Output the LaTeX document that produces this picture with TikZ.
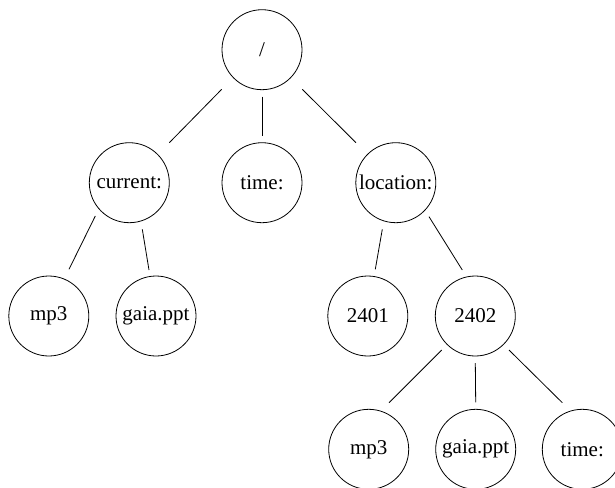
\documentclass[tikz,border=0pt]{standalone}
\usepackage{fontspec}
\setmainfont{Liberation Serif}
\usetikzlibrary{calc}
\begin{document}
\begin{tikzpicture}[x=1pt,y=1pt,
  tnode/.style={circle,draw,line width=0.8pt,minimum size=80pt,inner sep=0pt,font=\fontsize{21}{25}\selectfont},
  edge/.style={line width=0.8pt}]
\useasboundingbox (0,0) rectangle (615,-487);
\clip (0,0) rectangle (615,-487);
\node[tnode] (R)  at (262,-49.7) {/};
\node[tnode] (C)  at (129.3,-182.7) {current:};
\node[tnode] (T)  at (262,-182.7) {time:};
\node[tnode] (L)  at (395.8,-182.7) {location:};
\node[tnode] (M1) at (48.8,-316) {mp3};
\node[tnode] (G1) at (156,-316) {gaia.ppt};
\node[tnode] (A)  at (367.8,-316) {2401};
\node[tnode] (B)  at (475.3,-316) {2402};
\node[tnode] (M2) at (368.7,-449.3) {mp3};
\node[tnode] (G2) at (475.7,-449.3) {gaia.ppt};
\node[tnode] (T2) at (582.3,-449.3) {time:};
\draw[edge] ($(R)+(-40.3,-39.6)$) -- ($(C)+(40,40)$);
\draw[edge] ($(R)+(0,-47)$) -- ($(T)+(0,46.7)$);
\draw[edge] ($(R)+(40.3,-39.6)$) -- ($(L)+(-39.8,40)$);
\draw[edge] ($(C)+(-34,-33.3)$) -- ($(M1)+(20.2,46.7)$);
\draw[edge] ($(C)+(13,-46.6)$) -- ($(G1)+(-7,46)$);
\draw[edge] ($(L)+(-13.5,-46.6)$) -- ($(A)+(7.5,46.7)$);
\draw[edge] ($(L)+(33.2,-34)$) -- ($(B)+(-13,46)$);
\draw[edge] ($(B)+(-33.6,-34)$) -- ($(M2)+(20.3,46.6)$);
\draw[edge] ($(B)+(0,-47)$) -- ($(G2)+(0,47)$);
\draw[edge] ($(B)+(33.7,-34)$) -- ($(T2)+(-20,46.6)$);
\end{tikzpicture}
\end{document}
